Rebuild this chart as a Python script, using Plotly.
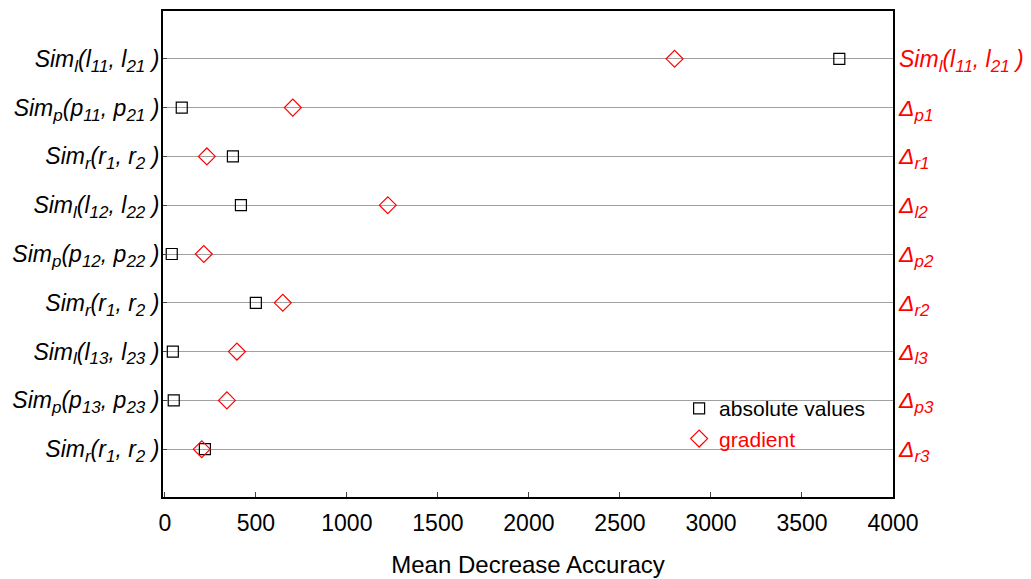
import plotly.graph_objects as go

def sub(s):
    return "<sub><span style='font-size:17px'>" + s + "</span></sub>"

left_labels = [
    "Sim" + sub("l") + "(l" + sub("11") + ", l" + sub("21") + " )",
    "Sim" + sub("p") + "(p" + sub("11") + ", p" + sub("21") + " )",
    "Sim" + sub("r") + "(r" + sub("1") + ", r" + sub("2") + " )",
    "Sim" + sub("l") + "(l" + sub("12") + ", l" + sub("22") + " )",
    "Sim" + sub("p") + "(p" + sub("12") + ", p" + sub("22") + " )",
    "Sim" + sub("r") + "(r" + sub("1") + ", r" + sub("2") + " )",
    "Sim" + sub("l") + "(l" + sub("13") + ", l" + sub("23") + " )",
    "Sim" + sub("p") + "(p" + sub("13") + ", p" + sub("23") + " )",
    "Sim" + sub("r") + "(r" + sub("1") + ", r" + sub("2") + " )",
]
right_labels = [
    "Sim" + sub("l") + "(l" + sub("11") + ", l" + sub("21") + " )",
    "Δ" + sub("p1"), "Δ" + sub("r1"), "Δ" + sub("l2"),
    "Δ" + sub("p2"), "Δ" + sub("r2"), "Δ" + sub("l3"),
    "Δ" + sub("p3"), "Δ" + sub("r3"),
]
absolute_values = [3705, 93, 374, 418, 38, 500, 44, 49, 220]
gradient_values = [2800, 703, 231, 1225, 214, 648, 396, 341, 203]
x_ticks = [0, 500, 1000, 1500, 2000, 2500, 3000, 3500, 4000]

rows = list(range(len(left_labels)))
FONT = "Liberation Sans, Arial, sans-serif"

fig = go.Figure()
fig.add_trace(go.Scatter(
    x=absolute_values, y=rows, mode="markers", name="absolute values",
    marker=dict(symbol="square-open", size=11, color="black", line=dict(width=1.2)),
))
fig.add_trace(go.Scatter(
    x=gradient_values, y=rows, mode="markers",
    name="<span style='color:red'>gradient</span>",
    marker=dict(symbol="diamond-open", size=13, color="red", line=dict(width=1.2)),
))
# invisible trace to activate right axis
fig.add_trace(go.Scatter(x=[None], y=[None], yaxis="y2", showlegend=False, hoverinfo="skip"))

fig.update_layout(
    width=1031, height=579,
    margin=dict(l=155, r=146, t=1, b=90),
    paper_bgcolor="white", plot_bgcolor="white",
    font=dict(family=FONT, color="black"),
    showlegend=True,
    legend=dict(x=0.707, y=0.224, xanchor="left", yanchor="top",
                bgcolor="rgba(0,0,0,0)", font=dict(size=21, family=FONT),
                itemwidth=30, tracegroupgap=0),
    xaxis=dict(
        range=[-10, 4000], tickvals=x_ticks, ticks="inside", ticklen=5,
        tickfont=dict(size=23), showgrid=False, zeroline=False, ticklabelstandoff=4,
        showline=True, linecolor="black", linewidth=2, mirror=True,
        title=dict(text="Mean Decrease Accuracy", font=dict(size=24), standoff=22),
    ),
    yaxis=dict(
        range=[8.98, -0.98], tickvals=rows,
        ticktext=["<i>" + t + "</i>" for t in left_labels],
        tickfont=dict(size=23, color="black"), ticklabelstandoff=-3,
        ticks="inside", ticklen=4, showgrid=True, gridcolor="#a0a0a0", gridwidth=1,
        zeroline=False, showline=True, linecolor="black", linewidth=2, mirror=True,
    ),
    yaxis2=dict(
        range=[8.98, -0.98], tickvals=rows,
        ticktext=["<i>" + t + "</i>" for t in right_labels],
        tickfont=dict(size=23, color="red"), ticklabelstandoff=5,
        overlaying="y", side="right", showgrid=False, zeroline=False,
        ticks="", showline=False,
    ),
)

fig.write_html("out.html")
